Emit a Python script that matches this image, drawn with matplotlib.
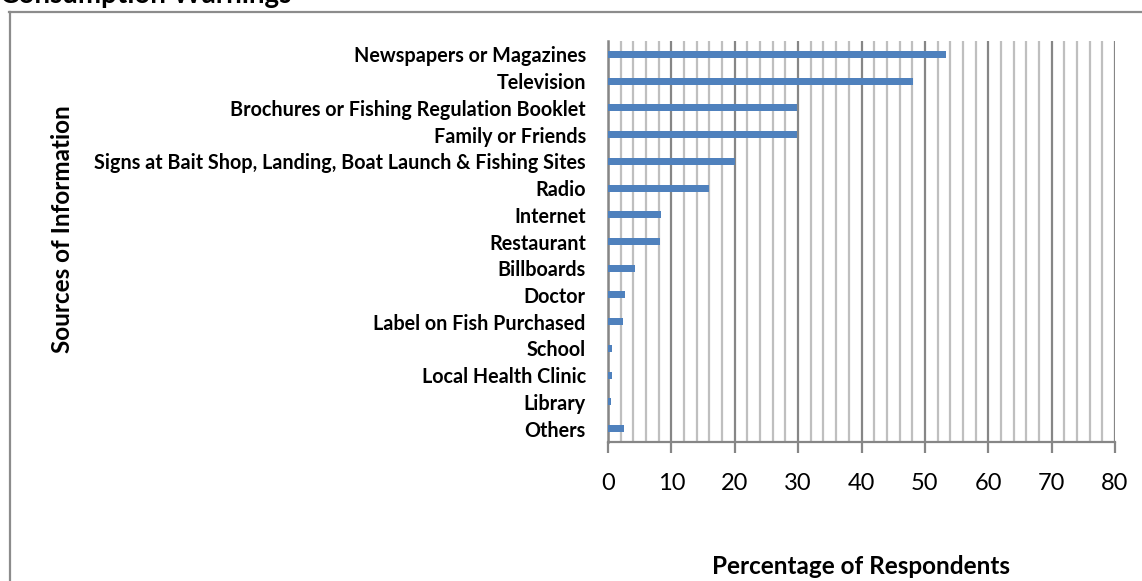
import matplotlib.pyplot as plt
from matplotlib.lines import Line2D
from matplotlib.ticker import MultipleLocator

# Sources of information and share of respondents (%)
sources = [
    'Newspapers or Magazines',
    'Television',
    'Brochures or Fishing Regulation Booklet',
    'Family or Friends',
    'Signs at Bait Shop, Landing, Boat Launch & Fishing Sites',
    'Radio',
    'Internet',
    'Restaurant',
    'Billboards',
    'Doctor',
    'Label on Fish Purchased',
    'School',
    'Local Health Clinic',
    'Library',
    'Others',
]
percent = [53.3, 48.2, 29.8, 29.8, 20.0, 15.9, 8.3, 8.2, 4.3, 2.7, 2.4, 0.6, 0.6, 0.5, 2.6]

plt.rcParams['font.family'] = ['Lato', 'DejaVu Sans']

W, H = 1142, 581
fig = plt.figure(figsize=(W / 100, H / 100), dpi=100)

# frame of the original chart box (top and left edges visible)
fig.add_artist(Line2D([9 / W, 1], [1 - 12 / H, 1 - 12 / H], color='#8c8c8c', lw=1.6))
fig.add_artist(Line2D([9.5 / W, 9.5 / W], [0, 1 - 12 / H], color='#8c8c8c', lw=1.6))

# title is partly cut off by the top edge, as in the source image
fig.text(0.0, 1 - 3 / H, 'Consumption Warnings', fontsize=20, fontweight='bold',
         ha='left', va='baseline')

ax = fig.add_axes([608 / W, 1 - 442 / H, (1115 - 608) / W, (442 - 41) / H])

y = range(len(sources))
ax.barh(y, percent, height=0.26, color='#4f81bd', zorder=3)

ax.set_xlim(0, 80)
ax.set_ylim(len(sources) - 0.5, -0.5)
ax.xaxis.set_major_locator(MultipleLocator(10))
ax.xaxis.set_minor_locator(MultipleLocator(2))
ax.grid(axis='x', which='minor', color='#bfbfbf', lw=1.6, zorder=1)
ax.grid(axis='x', which='major', color='#868686', lw=1.6, zorder=2)

for s in ['top', 'right']:
    ax.spines[s].set_visible(False)
ax.spines['left'].set_color('#868686')
ax.spines['left'].set_linewidth(1.8)
ax.spines['bottom'].set_color('#868686')
ax.spines['bottom'].set_linewidth(1.6)

ax.set_yticks(list(y))
ax.set_yticklabels(sources, fontsize=14.2, fontweight='bold')
ax.tick_params(axis='y', length=0, pad=16)
ax.tick_params(axis='x', which='major', length=8, width=1.6, color='#868686',
               labelsize=17, pad=14)
ax.tick_params(axis='x', which='minor', length=0)

ax.set_xlabel('Percentage of Respondents', fontsize=17.5, fontweight='bold', labelpad=44)
fig.text(63 / W, 1 - 229 / H, 'Sources of Information', fontsize=17.5, fontweight='bold',
         rotation=90, ha='center', va='center')

fig.savefig('out.png', dpi=100)
